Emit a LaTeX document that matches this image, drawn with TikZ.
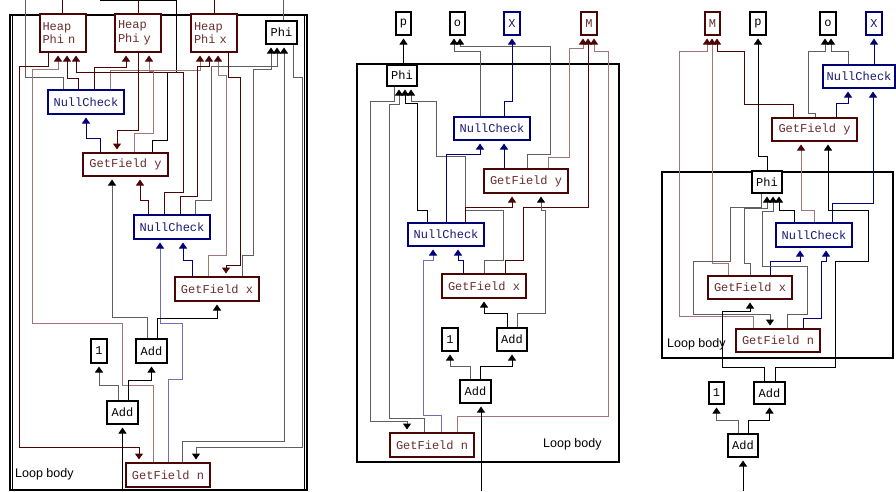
\documentclass[tikz,border=0pt]{standalone}
\usepackage{fontspec}
\newfontfamily\opfont{Liberation Mono}
\newfontfamily\lblfont{Liberation Sans}
\usepackage{xcolor}
\usetikzlibrary{arrows.meta,calc}

\definecolor{heapline}{RGB}{75,5,5}
\definecolor{heaplite}{RGB}{160,118,118}
\definecolor{heaptext}{RGB}{105,45,45}
\definecolor{nullline}{RGB}{0,0,120}
\definecolor{nulllite}{RGB}{110,110,185}
\definecolor{nulltext}{RGB}{25,25,120}
\definecolor{wiregray}{RGB}{95,95,95}

\begin{document}
\begin{tikzpicture}[x=1pt,y=-1pt,
  op/.style={draw,line width=2pt,fill=white,inner sep=0pt,minimum height=24pt,
    font=\opfont\fontsize{12}{13.5}\selectfont},
  blk/.style={op,draw=black,text=black},
  hp/.style={op,draw=heapline,text=heaptext},
  nc/.style={op,draw=nullline,text=nulltext},
  heap/.style={hp,minimum height=38pt,minimum width=46pt,text width=40pt,align=left},
  wk/.style={line width=1pt,black},
  wg/.style={line width=1pt,wiregray},
  wm/.style={line width=1pt,heapline},
  wl/.style={line width=1pt,heaplite},
  wb/.style={line width=1pt,nullline},
  wc/.style={line width=1pt,nulllite},
  inpk/.style={-{Triangle[width=8pt,length=6pt,color=black]},shorten >=2.5pt},
  inpm/.style={-{Triangle[width=8pt,length=6pt,color=heapline]},shorten >=2.5pt},
  inpb/.style={-{Triangle[width=8pt,length=6pt,color=nullline]},shorten >=2.5pt},
  loop/.style={line width=1.8pt,black},
  lbl/.style={font=\lblfont\fontsize{12.5}{14}\selectfont,anchor=west,inner sep=0pt}]
\useasboundingbox (0,0) rectangle (896,491);

% loop bodies
\draw[loop] (10,15) rectangle (307,490);
\draw[line width=1pt] (12.5,15) -- (12.5,490);
\draw[line width=1pt] (304.5,15) -- (304.5,490);
\draw[loop] (357,64) rectangle (619,462);
\draw[loop] (662,172) rectangle (893,358);
\node[lbl] (bodyA) at (15,474) {Loop body};
\node[lbl] (bodyB) at (543,444) {Loop body};
\node[lbl] (bodyC) at (667,344) {Loop body};

%%% first graph
\node[heap] (hpn) at (62.5,33) {Heap\\Phi n};
\node[heap] (hpy) at (138,33) {Heap\\Phi y};
\node[heap] (hpx) at (214,33) {Heap\\Phi x};
\node[blk,minimum width=31pt,minimum height=23pt] (phiA) at (281.5,32.5) {Phi};
\node[nc,minimum width=76pt] (ncA1) at (86,102) {NullCheck};
\node[hp,minimum width=85pt,minimum height=23pt] (gfyA) at (125.5,164.5) {GetField y};
\node[nc,minimum width=76pt] (ncA2) at (172,227) {NullCheck};
\node[hp,minimum width=84pt] (gfxA) at (217,289) {GetField x};
\node[blk,minimum width=16pt] (oneA) at (99,351) {1};
\node[blk,minimum width=31pt] (addA1) at (151.5,351) {Add};
\node[blk,minimum width=31pt,minimum height=23pt] (addA2) at (122.5,412.5) {Add};
\node[hp,minimum width=84pt] (gfnA) at (168,475) {GetField n};
\coordinate (inA) at (122.5,491);

% leaving the loop
\draw[wm] (hpn.north) -- (hpn.north |- 0,0);
\draw[wm] (hpy.north) -- (hpy.north |- 0,0);
\draw[wm] (hpx.north) -- (hpx.north |- 0,0);
\draw[wg] (phiA.north -| 283,0) -- (283,0);
\draw[wg] (25,0) |- (63,77) -- (ncA1.north -| 63,0);
\draw[wk] (gfyA.north -| 152,0) |- (167,140) |- (176,72) -- (176,0.5) -- (100,0.5);

% heap phis
\draw[wm,inpm] (ncA1.north -| 78,0) |- (67,78) -- (hpn.south -| 67,0);
\draw[wm,inpm] (ncA1.north -| 94,0) |- (126,67) -- (hpy.south -| 126,0);
\draw[wl,inpm] (ncA1.north -| 110,0) |- (200,70) -- (hpx.south -| 200,0);
\draw[wm,inpm] (ncA2.north -| 164,0) |- (183,192) |- (76,72) -- (hpn.south -| 76,0);
\draw[wm,inpm] (ncA2.north -| 180,0) |- (197,196) |- (209,66) -- (hpx.south -| 209,0);
\draw[wl,inpm] (gfxA.north -| 208,0) |- (226,255) |- (218,75) -- (hpx.south -| 218,0);
\draw[wl,inpm] (gfyA.north -| 134,0) |- (153,133) |- (149,71) -- (hpy.south -| 149,0);
\draw[wl,inpm] (gfnA.north -| 153,0) |- (122,385) |- (32,323) |- (58,69) -- (hpn.south -| 58,0);

% phi
\draw[wg,inpk] (ncA2.north -| 195,0) |- (211,200) |- (277,66) -- (phiA.south -| 277,0);
\draw[wg,inpk] (gfxA.north -| 242,0) |- (253,255) |- (271,69) -- (phiA.south -| 271,0);
\draw[wg,inpk] (gfnA.north -| 182,0) |- (284,441) -- (phiA.south -| 284,0);
\draw[wg,inpk] (phiA.south -| 293,0) |- (302,77) |- (196,447) -- (gfnA.north -| 196,0);

% field loads and checks
\draw[wb,inpb] (gfyA.north -| 100,0) |- (86,138) -- (ncA1.south);
\draw[wm,inpm] (hpy.south) -- (138,130) -| (gfyA.north -| 117,0);
\draw[wm,inpm] (ncA2.north -| 148,0) |- (140,200) -- (gfyA.south -| 140,0);
\draw[wg,inpk] (addA1.north -| 147,0) |- (112,317) -- (gfyA.south -| 112,0);
\draw[wb,inpb] (gfxA.north -| 192,0) |- (183,260) -- (ncA2.south -| 183,0);
\draw[wc,inpb] (gfnA.north -| 168,0) |- (182,379) |- (160,323) -- (ncA2.south -| 160,0);
\draw[wm,inpm] (hpx.south -| 228,0) |- (240,77) |- (226,265) -- (gfxA.north -| 226,0);
\draw[wm,inpm] (hpn.south -| 48,0) |- (19,66) |- (139,447) -- (gfnA.north -| 139,0);

% adds
\draw[wk,inpk] (addA1.north -| 157,0) |- (217,318) -- (gfxA.south);
\draw[wk,inpk] (addA2.north -| 128,0) |- (151.5,380) -- (addA1.south);
\draw[wg,inpk] (addA2.north -| 118,0) |- (99,385) -- (oneA.south);
\draw[wk,inpk] (inA) -- (addA2.south);

%%% second graph
\node[blk,minimum width=15pt,minimum height=23pt] (pB) at (403.5,23.5) {p};
\node[blk,minimum width=15pt,minimum height=23pt] (oB) at (457.5,23.5) {o};
\node[nc,minimum width=16pt,minimum height=23pt] (XB) at (512,23.5) {X};
\node[hp,minimum width=16pt,minimum height=23pt] (MB) at (589,23.5) {M};
\node[blk,minimum width=30pt,minimum height=21pt] (phiB) at (402,75.5) {Phi};
\node[nc,minimum width=76pt,minimum height=23pt] (ncB1) at (492,128.5) {NullCheck};
\node[hp,minimum width=84pt] (gfyB) at (526,181) {GetField y};
\node[nc,minimum width=76pt,minimum height=23pt] (ncB2) at (446,234.5) {NullCheck};
\node[hp,minimum width=84pt] (gfxB) at (484,286) {GetField x};
\node[blk,minimum width=16pt,minimum height=23pt] (oneB) at (450,339.5) {1};
\node[blk,minimum width=30pt,minimum height=23pt] (addB1) at (512,339.5) {Add};
\node[blk,minimum width=31pt,minimum height=23pt] (addB2) at (475.5,391.5) {Add};
\node[hp,minimum width=84pt] (gfnB) at (432,445) {GetField n};
\coordinate (inB) at (481,491);

% outputs
\draw[wk,inpk] (phiB.north -| pB.south) -- (pB.south);
\draw[wg,inpk] (ncB1.north -| 480,0) |- (454,51) -- (oB.south -| 454,0);
\draw[wg,inpk] (gfyB.north -| 527,0) |- (550,154) |- (460,46) -- (oB.south -| 460,0);
\draw[wb,inpb] (ncB1.north -| 504,0) |- (512,101) -- (XB.south);
\draw[wl,inpm] (gfyB.north -| 548,0) |- (569,157) |- (583,48) -- (MB.south -| 583,0);
\draw[wm,inpm] (gfxB.north -| 505,0) |- (523,260) |- (588,207) -- (MB.south -| 588,0);
\draw[wl,inpm] (gfnB.north -| 457,0) |- (608,416) |- (594,51) -- (MB.south -| 594,0);

% phi
\draw[wg,inpk] (phiB.south -| 394,0) |- (370,101) |- (407,421) -- (gfnB.north -| 407,0);
\draw[wg,inpk] (gfnB.north -| 424,0) |- (389,418) |- (399,104) -- (phiB.south -| 399,0);
\draw[wk,inpk] (ncB2.north -| 427,0) |- (417,210) |- (405,103) -- (phiB.south -| 405,0);
\draw[wg,inpk] (gfxB.north -| 484,0) |- (503,260) |- (465,210) |- (436,156) |- (411,101) -- (phiB.south -| 411,0);

% field loads and checks
\draw[wb,inpb] (ncB2.north -| 446,0) |- (480,154) -- (ncB1.south -| 480,0);
\draw[wb,inpb] (gfyB.north -| 504,0) -- (ncB1.south -| 504,0);
\draw[wm,inpm] (ncB2.north -| 465,0) |- (512,207) -- (gfyB.south -| 512,0);
\draw[wg,inpk] (addB1.north -| 517,0) |- (545,313) |- (541,210) -- (gfyB.south -| 541,0);
\draw[wc,inpb] (gfnB.north -| 441,0) |- (423,415) |- (433,260) -- (ncB2.south -| 433,0);
\draw[wb,inpb] (gfxB.north -| 463,0) |- (458,260) -- (ncB2.south -| 458,0);

% adds
\draw[wk,inpk] (addB1.north -| 507,0) |- (484,313) -- (gfxB.south);
\draw[wg,inpk] (addB2.north -| 470,0) |- (450,366) -- (oneB.south);
\draw[wk,inpk] (addB2.north -| 480,0) |- (512,366) -- (addB1.south);
\draw[wk,inpk] (inB) -- (addB2.south -| inB);

%%% third graph
\node[hp,minimum width=15pt,minimum height=23pt] (MC) at (712.5,23.5) {M};
\node[blk,minimum width=16pt,minimum height=23pt] (pC) at (758,23.5) {p};
\node[blk,minimum width=16pt,minimum height=23pt] (oC) at (828,23.5) {o};
\node[nc,minimum width=16pt,minimum height=23pt] (XC) at (874,23.5) {X};
\node[nc,minimum width=72pt,minimum height=23pt] (ncC1) at (859,76.5) {NullCheck};
\node[hp,minimum width=85pt,minimum height=23pt] (gfyC) at (814.5,129.5) {GetField y};
\node[blk,minimum width=30pt,minimum height=22pt] (phiC) at (767,182) {Phi};
\node[nc,minimum width=76pt] (ncC2) at (814,235) {NullCheck};
\node[hp,minimum width=84pt,minimum height=23pt] (gfxC) at (750,287.5) {GetField x};
\node[hp,minimum width=84pt,minimum height=23pt] (gfnC) at (778,340.5) {GetField n};
\node[blk,minimum width=15pt,minimum height=22pt] (oneC) at (716.5,393) {1};
\node[blk,minimum width=31pt,minimum height=22pt] (addC1) at (769.5,393) {Add};
\node[blk,minimum width=30pt,minimum height=23pt] (addC2) at (743,445.5) {Add};
\coordinate (inC) at (743,491);

% outputs
\draw[wl,inpm] (gfnC.north -| 753,0) |- (679,316) |- (707,51) -- (MC.south -| 707,0);
\draw[wl,inpm] (gfxC.north -| 728,0) |- (712,263) -- (MC.south -| 712,0);
\draw[wm,inpm] (gfyC.north -| 793,0) |- (744,104) |- (717,51) -- (MC.south -| 717,0);
\draw[wk,inpk] (phiC.north) |- (pC.south |- 0,156) -- (pC.south);
\draw[wg,inpk] (gfyC.north -| 815,0) |- (808,113) |- (825,51) -- (oC.south -| 825,0);
\draw[wg,inpk] (ncC1.north -| 848,0) |- (831,51) -- (oC.south -| 831,0);
\draw[wb,inpb] (ncC1.north -| 874,0) -- (XC.south);

% checks and loads
\draw[wb,inpb] (gfyC.north -| 836,0) |- (848,103) -- (ncC1.south -| 848,0);
\draw[wb,inpb] (ncC2.north -| 832,0) |- (873,203) -- (ncC1.south -| 873,0);
\draw[wl,inpm] (ncC2.north -| 814,0) |- (801,210) -- (gfyC.south -| 801,0);
\draw[wk,inpk] (addC1.north -| 775,0) |- (835,367) |- (868,261) |- (828,210) -- (gfyC.south -| 828,0);
\draw[wb,inpb] (gfxC.north -| 770,0) |- (800,261) -- (ncC2.south -| 800,0);
\draw[wb,inpb] (gfnC.north -| 803,0) |- (821,318) |- (826,261) -- (ncC2.south -| 826,0);

% phi
\draw[wg,inpk] (phiC.south -| 761,0) |- (730,207) |- (693,261) |- (770,314) -- (gfnC.north -| 770,0);
\draw[wg,inpk] (gfxC.north -| 750,0) |- (744,263) |- (767,208) -- (phiC.south -| 767,0);
\draw[wg,inpk] (gfnC.north -| 787,0) |- (807,314) |- (762,266) |- (773,211) -- (phiC.south -| 773,0);
\draw[wk,inpk] (ncC2.north -| 794,0) |- (779,210) -- (phiC.south -| 779,0);

% adds
\draw[wk,inpk] (addC1.north -| 764,0) |- (722,367) |- (750,311) -- (gfxC.south -| 750,0);
\draw[wg,inpk] (addC2.north -| 738,0) |- (716.5,420) -- (oneC.south);
\draw[wk,inpk] (addC2.north -| 748,0) |- (769.5,420) -- (addC1.south);
\draw[wk,inpk] (inC) -- (addC2.south);
\end{tikzpicture}
\end{document}
